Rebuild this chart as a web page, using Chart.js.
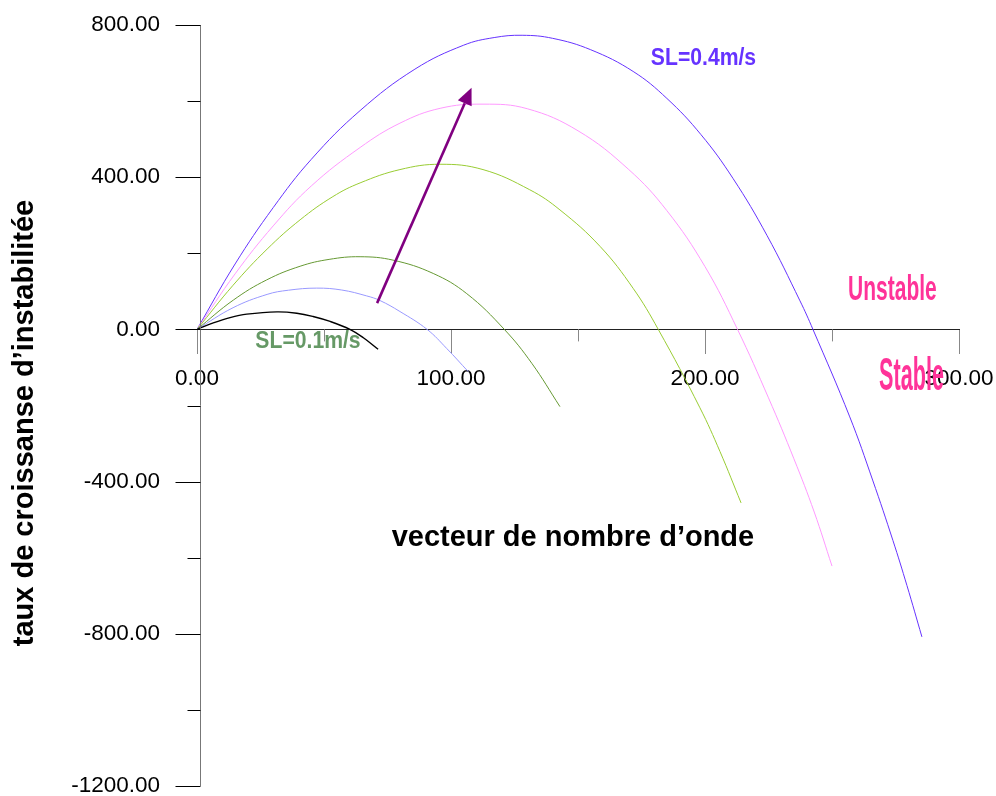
<!DOCTYPE html>
<html><head><meta charset="utf-8">
<script src="https://cdn.jsdelivr.net/npm/chart.js@4/dist/chart.umd.min.js"></script>
<style>html,body{margin:0;padding:0;background:#fff}</style>
</head><body>
<canvas id="c" width="996" height="796"></canvas>
<script>
// ---- data ----
const xTicks = [0, 100, 200, 300];
const xMinorTicks = [50, 150, 250];
const yTicks = [800, 400, 0, -400, -800, -1200];
const yMinorTicks = [600, 200, -200, -600, -1000];

// black (SL=0.1m/s)
const kBlack = [0, 6.4, 13, 19.6, 31.5, 39.3, 45.7, 52.4, 60.2, 65.5, 71.3];
const wBlack = [0, 17, 31, 40, 46, 42.5, 34, 21, 0, -22, -52];
// light blue
const kLightBlue = [0, 14.2, 27.6, 36, 47.1, 57, 66.8, 72, 79.9, 90.6, 98.3, 106.8];
const wLightBlue = [0, 57, 92, 103, 108.5, 103.5, 88, 76, 47, 0, -50, -111];
// dark green
const kDarkGreen = [0, 14.3, 27.4, 40.6, 52, 64.2, 77.2, 93, 106.2, 121, 131.8, 142.9];
const wDarkGreen = [0, 77, 130, 166, 184, 191, 182, 147, 94, 0, -89, -203];
// yellow green
const kYellowGreen = [0, 14.2, 27.6, 40.6, 53.5, 64.2, 79.9, 95.7, 112.6, 131, 142.9, 158.7, 171.7, 181.6, 198, 205.9, 214.2];
const wYellowGreen = [0, 116, 211, 288, 349, 385, 420, 434, 420, 367, 314, 218, 108, 0, -206, -321, -456];
// pink
const kPink = [0, 15, 30, 45, 64.2, 79.9, 95.7, 112.6, 130, 150, 170, 185, 200, 212.8, 225, 235, 243, 250];
const wPink = [0, 146, 272, 377, 478, 542, 581, 592, 580, 522, 420, 312, 165, 0, -180, -340, -480, -622];
// blue (SL=0.4m/s)
const kBlue = [0, 15, 30, 45, 64.2, 85.8, 105, 117, 128, 140, 155, 171.7, 185, 198.4, 211, 224.4, 237.4, 242.5, 257, 266, 274, 279.5, 285.4];
const wBlue = [0, 172, 320, 447, 575, 684, 747, 767, 773, 765, 735, 678, 607, 512, 397, 247, 75, 0, -230, -396, -555, -673, -808];

// arrow (data coords): start -> tip
const arrowStart = [70.9, 69];
const arrowEnd = [108.1, 635];

// annotation texts (data coords of centre / baseline)
const notes = [
  {text: 'SL=0.4m/s', x: 199.4, y: 696, color: '#6633ff', size: 23, sx: 0.92},
  {text: 'SL=0.1m/s', x: 43.7, y: -49, color: '#669966', size: 23, sx: 0.92},
  {text: 'Unstable', x: 273.8, y: 77, color: '#ff3399', size: 35, sx: 0.6},
  {text: 'Stable', x: 281.3, y: -159, color: '#ff3399', size: 46, sx: 0.47},
  {text: 'vecteur de nombre d\u2019onde', x: 148, y: -569, color: '#000', size: 29, sx: 1}
];
const yTitle = 'taux de croissanse d\u2019instabilit\u00e9e';
const yTitleAt = -246;

const FONT = '"Liberation Sans", Arial, Helvetica, sans-serif';
const AXIS_SHIFT = 3; // the vertical axis line sits a few px right of k = 0
const mk = (k, w) => k.map((v, i) => ({x: v, y: w[i]}));
const ds = (k, w, color, width) => ({
  data: mk(k, w), borderColor: color, borderWidth: width, showLine: true,
  pointRadius: 0, fill: false, tension: 0.4
});

const decor = {
  id: 'decor',
  afterDraw(chart) {
    const {ctx, scales: {x, y}} = chart;
    const y0 = y.getPixelForValue(0);
    const ax = Math.round(x.getPixelForValue(0)) + AXIS_SHIFT + 0.5;
    ctx.save();
    ctx.lineWidth = 1;
    // vertical axis line
    ctx.strokeStyle = '#777';
    ctx.beginPath(); ctx.moveTo(ax, y.top); ctx.lineTo(ax, y.bottom); ctx.stroke();
    // x minor ticks
    ctx.strokeStyle = '#888';
    xMinorTicks.forEach(v => {
      const px = Math.round(x.getPixelForValue(v)) + 0.5;
      ctx.beginPath(); ctx.moveTo(px, y0); ctx.lineTo(px, y0 + 12); ctx.stroke();
    });
    // y ticks
    ctx.strokeStyle = '#000';
    yTicks.forEach(v => {
      const py = Math.round(y.getPixelForValue(v)) + 0.5;
      ctx.beginPath(); ctx.moveTo(ax - 25, py); ctx.lineTo(ax, py); ctx.stroke();
    });
    yMinorTicks.forEach(v => {
      const py = Math.round(y.getPixelForValue(v)) + 0.5;
      ctx.beginPath(); ctx.moveTo(ax - 13, py); ctx.lineTo(ax, py); ctx.stroke();
    });
    // arrow
    const ax0 = x.getPixelForValue(arrowStart[0]), ay0 = y.getPixelForValue(arrowStart[1]);
    const ax1 = x.getPixelForValue(arrowEnd[0]), ay1 = y.getPixelForValue(arrowEnd[1]);
    const ang = Math.atan2(ay1 - ay0, ax1 - ax0);
    const hl = 17, hw = 7.5;
    const bx = ax1 - hl * Math.cos(ang), by = ay1 - hl * Math.sin(ang);
    ctx.strokeStyle = '#800080'; ctx.fillStyle = '#800080'; ctx.lineWidth = 2.6;
    ctx.beginPath(); ctx.moveTo(ax0, ay0); ctx.lineTo(bx, by); ctx.stroke();
    ctx.beginPath();
    ctx.moveTo(ax1, ay1);
    ctx.lineTo(bx + hw * Math.sin(ang), by - hw * Math.cos(ang));
    ctx.lineTo(bx - hw * Math.sin(ang), by + hw * Math.cos(ang));
    ctx.closePath(); ctx.fill();
    // texts
    ctx.textAlign = 'center'; ctx.textBaseline = 'alphabetic';
    notes.forEach(n => {
      ctx.save();
      ctx.translate(x.getPixelForValue(n.x), y.getPixelForValue(n.y));
      ctx.scale(n.sx, 1);
      ctx.font = 'bold ' + n.size + 'px ' + FONT;
      ctx.fillStyle = n.color;
      ctx.fillText(n.text, 0, 0);
      ctx.restore();
    });
    ctx.save();
    ctx.translate(y.left + 33, y.getPixelForValue(yTitleAt));
    ctx.rotate(-Math.PI / 2);
    ctx.font = 'bold 29px ' + FONT;
    ctx.fillStyle = '#000';
    ctx.fillText(yTitle, 0, 0);
    ctx.restore();
    ctx.restore();
  }
};

new Chart(document.getElementById('c'), {
  type: 'scatter',
  data: {datasets: [
    ds(kBlack, wBlack, '#000000', 1.4),
    ds(kLightBlue, wLightBlue, '#9999ff', 1),
    ds(kDarkGreen, wDarkGreen, '#669933', 1),
    ds(kYellowGreen, wYellowGreen, '#99cc33', 1),
    ds(kPink, wPink, '#ff99ff', 1),
    ds(kBlue, wBlue, '#6633ff', 1)
  ]},
  options: {
    responsive: false, animation: false, devicePixelRatio: 1,
    layout: {padding: {left: 0, right: 37, top: 25, bottom: 10}},
    plugins: {legend: {display: false}, tooltip: {enabled: false}},
    scales: {
      x: {
        type: 'linear', min: 0, max: 300, position: {y: 0},
        afterBuildTicks: s => { s.ticks = xTicks.map(v => ({value: v})); },
        afterFit: s => { s.paddingLeft = 0; s.paddingRight = 0; },
        ticks: {callback: v => Number(v).toFixed(2), font: {family: FONT, size: 22.5}, color: '#000', padding: 12, maxRotation: 0, autoSkip: false},
        grid: {display: true, drawOnChartArea: false, drawTicks: true, tickLength: 24, color: '#888', lineWidth: 1},
        border: {display: true, color: '#222', width: 1}
      },
      y: {
        type: 'linear', min: -1200, max: 800, position: 'left',
        afterBuildTicks: s => { s.ticks = yTicks.map(v => ({value: v})); },
        afterFit: s => { s.width = 197; s.paddingTop = 0; s.paddingBottom = 0; },
        ticks: {callback: v => Number(v).toFixed(2), font: {family: FONT, size: 22.5}, color: '#000', padding: 37, autoSkip: false},
        grid: {display: false, drawTicks: false},
        border: {display: false}
      }
    }
  },
  plugins: [decor]
});
</script>
</body></html>
